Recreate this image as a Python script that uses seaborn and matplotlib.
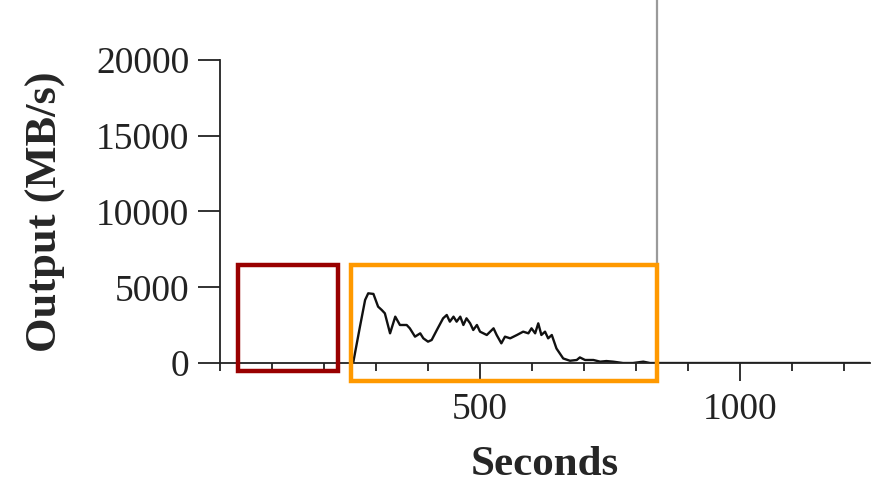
import numpy as np
import pandas as pd
import matplotlib
matplotlib.use("Agg")
import matplotlib.pyplot as plt
import matplotlib.patches as patches
from matplotlib.ticker import MultipleLocator
import seaborn as sns

# Output throughput over time
seconds = [250, 256, 269, 279, 285, 295, 304, 311, 317, 327, 337, 346, 359, 365,
           375, 385, 391, 400, 407, 417, 429, 436, 442, 449, 455, 462, 468, 474,
           481, 487, 494, 500, 513, 526, 532, 541, 548, 558, 571, 583, 593, 599,
           606, 612, 618, 625, 631, 638, 647, 660, 673, 686, 692, 702, 718, 731,
           743, 756, 775, 794, 814, 827, 840, 1250]
output = [0, 0, 2380, 4160, 4600, 4560, 3720, 3500, 3280, 1960, 3060, 2510, 2510, 2290,
          1740, 1960, 1630, 1410, 1520, 2180, 2950, 3170, 2730, 3060, 2730, 3060, 2510, 2950,
          2620, 2180, 2510, 2070, 1850, 2290, 1850, 1300, 1740, 1630, 1850, 2070, 1960, 2290,
          1960, 2620, 1850, 2070, 1630, 1850, 960, 300, 150, 200, 370, 200, 200, 90,
          130, 90, 0, 0, 90, 0, 0, 0]

x_major = [500, 1000]
y_major = [0, 5000, 10000, 15000, 20000]
marker_time = 840
# highlight boxes: (x0, x1, y0, y1, colour)
boxes = [(35, 227, -530, 6470, "#990000"),
         (252, 840, -1190, 6470, "#ff9900")]

df = pd.DataFrame({"Seconds": seconds, "Output": output})

sns.set_style("ticks")
plt.rcParams["font.family"] = ["Liberation Serif", "DejaVu Serif"]

fig = plt.figure(figsize=(8.79, 4.88), dpi=100)
ax = fig.add_axes([0.2503, 0.2561, 0.7395, 0.621])

sns.lineplot(data=df, x="Seconds", y="Output", color="#111111", linewidth=1.7, ax=ax)

ax.axvline(marker_time, ymin=0, ymax=1.2, color="#9a9a9a", linewidth=1.6,
           clip_on=False, zorder=1)

for x0, x1, y0, y1, c in boxes:
    ax.add_patch(patches.Rectangle((x0, y0), x1 - x0, y1 - y0, fill=False,
                                   edgecolor=c, linewidth=3.2, clip_on=False, zorder=5))

ax.set_xlim(0, 1250)
ax.set_ylim(0, 20000)
ax.set_xticks(x_major)
ax.xaxis.set_minor_locator(MultipleLocator(100))
ax.set_yticks(y_major)

sns.despine(ax=ax)
for s in ["left", "bottom"]:
    ax.spines[s].set_linewidth(1.3)
    ax.spines[s].set_color("#222222")

ax.tick_params(axis="y", which="major", length=16, width=1.3, labelsize=27,
               colors="#222222", pad=6)
ax.tick_params(axis="x", which="major", length=13, width=1.3, labelsize=27,
               colors="#222222", pad=8)
ax.tick_params(axis="x", which="minor", length=6, width=1.3, colors="#222222")

ax.set_xlabel("Seconds", fontsize=31, fontweight="bold", labelpad=14)
ax.set_ylabel("Output (MB/s)", fontsize=32, fontweight="bold", labelpad=22)

plt.savefig("out.png", dpi=100)
